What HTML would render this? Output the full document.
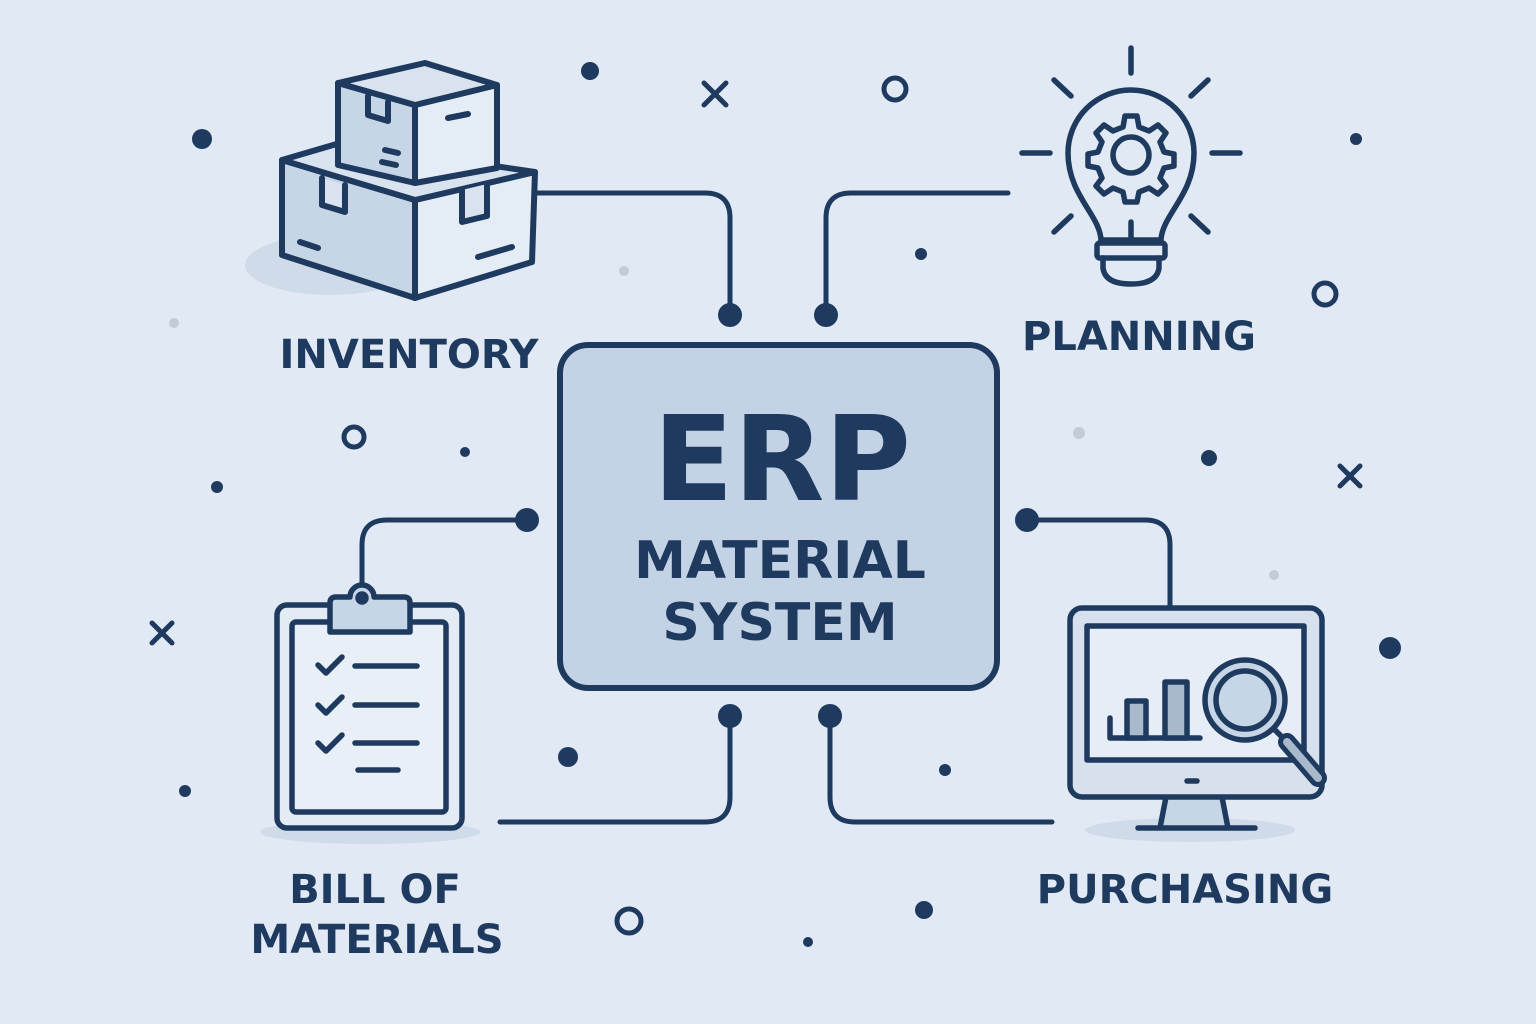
<!DOCTYPE html>
<html><head><meta charset="utf-8"><style>
html,body{margin:0;padding:0;background:#e0e9f4;}
svg{display:block;}
text{font-family:"DejaVu Sans","Liberation Sans",sans-serif;font-weight:bold;fill:#1f3a5f;}
</style></head><body>
<svg width="1536" height="1024" viewBox="0 0 1536 1024" xmlns="http://www.w3.org/2000/svg">
<rect width="1536" height="1024" fill="#e0e9f4"/>
<g fill="none" stroke="#1f3a5f" stroke-width="5" stroke-linecap="round" stroke-linejoin="round">
<path d="M537,193 H705 Q730,193 730,218 V315"/>
<path d="M826,315 V218 Q826,193 851,193 H1008"/>
<path d="M527,520 H387 Q362,520 362,545 V585"/>
<path d="M1027,520 H1145 Q1170,520 1170,545 V608"/>
<path d="M730,716 V797 Q730,822 705,822 H500"/>
<path d="M830,716 V797 Q830,822 855,822 H1052"/>
</g>
<g fill="#1f3a5f">
<circle cx="730" cy="315" r="12"/><circle cx="826" cy="315" r="12"/>
<circle cx="527" cy="520" r="12"/><circle cx="1027" cy="520" r="12"/>
<circle cx="730" cy="716" r="12"/><circle cx="830" cy="716" r="12"/>
</g>
<rect x="560" y="345" width="437" height="343" rx="28" fill="#c3d3e5" stroke="#1f3a5f" stroke-width="6"/>
<text x="782" y="500" font-size="118" text-anchor="middle">ERP</text>
<text x="780" y="578" font-size="52" text-anchor="middle">MATERIAL</text>
<text x="780" y="640" font-size="52" text-anchor="middle">SYSTEM</text>
<text x="409" y="368" font-size="40" text-anchor="middle">INVENTORY</text>
<text x="1139" y="350" font-size="40" text-anchor="middle">PLANNING</text>
<text x="375" y="903" font-size="40" text-anchor="middle">BILL OF</text>
<text x="377" y="953" font-size="40" text-anchor="middle">MATERIALS</text>
<text x="1185" y="903" font-size="40" text-anchor="middle">PURCHASING</text>
<g fill="#1f3a5f">
<circle cx="590" cy="71" r="9"/><circle cx="202" cy="139" r="10"/><circle cx="1356" cy="139" r="6"/>
<circle cx="921" cy="254" r="6"/><circle cx="465" cy="452" r="5"/><circle cx="217" cy="487" r="6"/>
<circle cx="1209" cy="458" r="8"/><circle cx="1390" cy="648" r="11"/><circle cx="568" cy="757" r="10"/>
<circle cx="945" cy="770" r="6"/><circle cx="185" cy="791" r="6"/><circle cx="924" cy="910" r="9"/>
<circle cx="808" cy="942" r="5"/>
</g>
<g fill="#c1ccd8">
<circle cx="174" cy="323" r="5"/><circle cx="624" cy="271" r="5"/><circle cx="1079" cy="433" r="6"/><circle cx="1274" cy="575" r="5"/>
</g>
<g fill="none" stroke="#1f3a5f" stroke-width="5" stroke-linecap="round">
<circle cx="895" cy="89" r="11"/><circle cx="354" cy="437" r="10"/><circle cx="1325" cy="294" r="11"/><circle cx="629" cy="921" r="12"/>
<path d="M704,83 L726,105 M726,83 L704,105"/>
<path d="M1340,466 L1360,486 M1360,466 L1340,486"/>
<path d="M152,623 L172,643 M172,623 L152,643"/>
</g>
<ellipse cx="330" cy="265" rx="85" ry="30" fill="#cfdbe8"/>
<g stroke="#1f3a5f" stroke-width="6" stroke-linejoin="round" stroke-linecap="round">
<path d="M282,160 L415,200 L415,298 L282,255 Z" fill="#c7d6e7"/>
<path d="M415,200 L535,172 L532,262 L415,298 Z" fill="#e4ecf5"/>
<path d="M282,160 L340,143 L535,172 L415,200 Z" fill="#d8e3ef"/>
<path d="M322,178 V205 L345,212 V185" fill="#d8e3ef"/>
<path d="M462,190 V222 L487,216 V184" fill="#d8e3ef"/>
<path d="M300,242 L318,248 M478,257 L512,247" fill="none"/>
<path d="M338,83 L415,105 L415,183 L338,165 Z" fill="#c7d6e7"/>
<path d="M415,105 L497,85 L497,168 L415,183 Z" fill="#e4ecf5"/>
<path d="M338,83 L425,63 L497,85 L415,105 Z" fill="#d8e3ef"/>
<path d="M368,96 V115 L388,121 V102" fill="none"/>
<path d="M448,118 L468,114 M385,150 L398,153 M382,162 L396,165" fill="none"/>
</g>
<g fill="none" stroke="#1f3a5f" stroke-width="5.5" stroke-linecap="round" stroke-linejoin="round">
<path d="M1131,48 V73 M1054,80 L1071,96 M1208,80 L1191,96 M1022,153 H1050 M1212,153 H1240 M1054,232 L1071,216 M1208,232 L1191,216"/>
<path d="M1101,240 C1100,215 1068,195 1068,153 A63,63 0 0 1 1194,153 C1194,195 1162,215 1161,240 Z"/>
<path d="M1131,222 V238"/>
<rect x="1097" y="243" width="68" height="15" rx="3"/>
<path d="M1103,258 V268 Q1105,284 1131,284 Q1157,284 1159,268 V258"/>
<circle cx="1131" cy="155" r="18"/>
<path d="M1125,116 H1137 L1139,127 L1149,131 L1158,125 L1166,133 L1160,142 L1164,152 L1174,154 V166 L1164,168 L1160,178 L1166,186 L1158,194 L1149,188 L1139,192 L1137,202 H1125 L1123,192 L1113,188 L1104,194 L1096,186 L1102,178 L1098,168 L1088,166 V154 L1098,152 L1102,142 L1096,133 L1104,125 L1113,131 L1123,127 Z"/>
</g>
<ellipse cx="370" cy="832" rx="110" ry="12" fill="#cfdbe8"/>
<g fill="none" stroke="#1f3a5f" stroke-width="5.5" stroke-linecap="round" stroke-linejoin="round">
<rect x="277" y="605" width="185" height="223" rx="10" fill="#e3ebf5"/>
<rect x="292" y="622" width="154" height="190" rx="4" fill="#e9eff7"/>
<path d="M330,632 V603 Q330,597 336,597 H350 A12,12 0 0 1 374,597 H404 Q410,597 410,603 V632 Z" fill="#c7d6e7"/>
<circle cx="362" cy="598" r="4" fill="#1f3a5f"/>
<path d="M318,665 L326,673 L342,657 M355,666 H417"/>
<path d="M318,705 L326,713 L342,697 M355,705 H417"/>
<path d="M318,743 L326,751 L342,735 M355,743 H417"/>
<path d="M358,770 H398"/>
</g>
<ellipse cx="1190" cy="830" rx="105" ry="12" fill="#cfdbe8"/>
<g fill="none" stroke="#1f3a5f" stroke-width="5.5" stroke-linecap="round" stroke-linejoin="round">
<path d="M1166,797 H1222 L1228,828 H1160 Z" fill="#c7d6e7" stroke="none"/>
<path d="M1166,797 L1160,828 M1222,797 L1228,828 M1138,828 H1255"/>
<rect x="1070" y="608" width="252" height="189" rx="12" fill="#d6e1ed"/>
<rect x="1087" y="626" width="217" height="134" fill="#e6edf6"/>
<path d="M1187,781 H1197"/>
<path d="M1110,718 V738 H1200"/>
<rect x="1127" y="701" width="19" height="37" fill="#a9b9cc"/>
<rect x="1165" y="682" width="22" height="56" fill="#a9b9cc"/>
<circle cx="1245" cy="700" r="40" fill="#c7d6e7"/>
<circle cx="1245" cy="700" r="29" fill="#c7d6e7"/>
<path d="M1275,730 L1282,737"/>
<path d="M1287,742 L1318,778" stroke-width="18"/>
<path d="M1287,742 L1318,778" stroke="#a9b9cc" stroke-width="8"/>
</g>
</svg>
</body></html>
